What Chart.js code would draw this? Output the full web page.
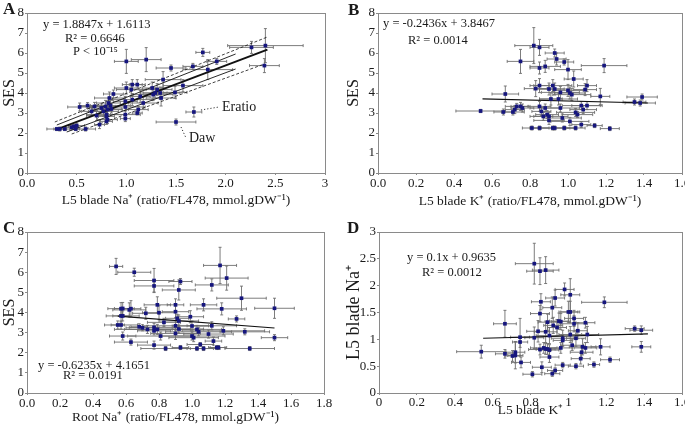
<!DOCTYPE html>
<html>
<head>
<meta charset="utf-8">
<title>SES vs ion content</title>
<script src="https://cdn.jsdelivr.net/npm/chart.js@4.4.0/dist/chart.umd.min.js"></script>
<style>
  html, body { margin: 0; padding: 0; background: #fff; overflow: hidden; }
  body { width: 685px; height: 426px; position: relative; }
  canvas { position: absolute; }
</style>
</head>
<body>
<canvas id="chartA" width="340" height="210" style="left:0;top:0"></canvas>
<canvas id="chartB" width="360" height="210" style="left:340px;top:0"></canvas>
<canvas id="chartC" width="340" height="216" style="left:0;top:210px"></canvas>
<canvas id="chartD" width="360" height="216" style="left:340px;top:210px"></canvas>
<script>
// Panel A: L5 blade Na+ vs SES
const aNa = [0.30, 0.33, 0.38, 0.45, 0.47, 0.50, 0.49, 0.59, 0.53, 0.61, 0.65, 0.68, 0.70, 0.73, 0.75, 0.77,
  0.79, 0.80, 0.80, 0.80, 0.81, 0.82, 0.83, 0.84, 0.85, 0.87, 0.81, 0.99, 0.99, 0.99, 0.99, 1.00, 1.00,
  1.05, 1.06, 1.06, 1.11, 1.11, 1.12, 1.14, 1.20, 1.17, 1.26, 1.27, 1.29, 1.31, 1.34, 1.35, 1.37, 1.45,
  1.49, 1.50, 1.57, 1.67, 1.68, 1.77, 1.82, 1.91, 2.26, 2.40, 2.39];
const aSES = [2.20, 2.20, 2.20, 2.28, 2.33, 2.37, 2.20, 2.20, 3.30, 3.37, 3.08, 3.33, 2.87, 2.42, 3.25, 3.08,
  3.33, 2.92, 2.83, 2.58, 2.67, 3.50, 3.75, 3.37, 3.20, 3.95, 3.17, 3.58, 3.30, 2.92, 2.72, 4.25, 5.58,
  4.17, 4.42, 3.67, 4.42, 3.00, 3.17, 3.83, 5.67, 3.50, 4.25, 3.92, 4.00, 4.17, 4.00, 3.75, 4.67, 5.25,
  4.03, 2.55, 4.37, 5.33, 3.05, 6.03, 5.17, 5.58, 6.28, 6.37, 5.37];
const aNaErr = [0.10, 0.06, 0.05, 0.06, 0.05, 0.08, 0.04, 0.10, 0.12, 0.08, 0.10, 0.15, 0.10, 0.05, 0.12, 0.15,
  0.10, 0.20, 0.08, 0.06, 0.10, 0.12, 0.15, 0.20, 0.10, 0.10, 0.15, 0.12, 0.20, 0.15, 0.05, 0.12, 0.12,
  0.15, 0.10, 0.20, 0.08, 0.05, 0.10, 0.10, 0.15, 0.15, 0.10, 0.20, 0.12, 0.15, 0.20, 0.15, 0.18, 0.15,
  0.12, 0.20, 0.20, 0.10, 0.08, 0.07, 0.25, 0.10, 0.22, 0.38, 0.15];
const aSESErr = [0.08, 0.10, 0.08, 0.10, 0.10, 0.12, 0.08, 0.10, 0.20, 0.15, 0.20, 0.20, 0.25, 0.20, 0.20, 0.25,
  0.30, 0.20, 0.20, 0.15, 0.20, 0.25, 0.30, 0.25, 0.20, 0.20, 0.20, 0.25, 0.20, 0.20, 0.15, 0.30, 0.60,
  0.30, 0.25, 0.30, 0.25, 0.10, 0.15, 0.30, 0.60, 0.30, 0.30, 0.30, 0.25, 0.30, 0.30, 0.40, 0.40, 0.15,
  0.30, 0.15, 0.30, 0.15, 0.25, 0.20, 0.50, 0.15, 0.30, 0.85, 0.35];
const aFitX = [0.30, 2.42], aFitY = [2.18, 6.17];
const aUpX = [0.30, 2.10], aUpY = [2.40, 5.95];
const aLowX = [0.40, 2.10], aLowY = [2.05, 5.20];
const aUpDashX = [0.28, 2.42], aUpDashY = [2.55, 6.80];
const aLowDashX = [0.45, 2.39], aLowDashY = [1.95, 5.45];
const aXTicks = ['0.0', '0.5', '1.0', '1.5', '2.0', '2.5', '3'];

// Panel B: L5 blade K+ vs SES
const bK = [0.54, 0.67, 0.66, 0.71, 0.72, 0.73, 0.75, 0.76, 0.75, 0.82, 0.85, 0.83, 0.85, 0.81, 0.85, 0.85,
  0.88, 0.85, 0.86, 0.87, 0.88, 0.89, 0.90, 0.90, 0.90, 0.91, 0.92, 0.93, 0.93, 0.94, 0.92, 0.93, 0.95,
  0.96, 0.96, 0.97, 0.98, 0.98, 1.00, 1.00, 1.01, 1.02, 1.03, 1.04, 1.01, 1.04, 1.05, 1.07, 1.07, 1.09,
  1.10, 1.10, 1.08, 1.14, 1.19, 1.17, 1.22, 1.35, 1.38, 1.39];
const bSES = [3.10, 3.95, 3.05, 3.05, 3.17, 3.33, 3.33, 3.25, 5.58, 6.37, 6.28, 4.22, 4.37, 2.25, 2.25, 5.25,
  5.33, 3.33, 3.08, 2.83, 3.25, 2.92, 2.83, 2.63, 4.20, 3.70, 4.37, 4.20, 6.00, 5.70, 2.25, 2.25, 3.70,
  4.03, 3.25, 2.75, 5.55, 2.25, 5.17, 4.13, 4.00, 3.92, 4.70, 2.25, 2.58, 3.03, 2.92, 3.37, 2.42, 4.17,
  4.37, 3.37, 3.17, 2.37, 5.37, 3.83, 2.22, 3.55, 3.50, 3.80];
const bKErr = [0.13, 0.07, 0.05, 0.06, 0.05, 0.06, 0.05, 0.06, 0.07, 0.10, 0.05, 0.06, 0.05, 0.05, 0.05, 0.05,
  0.08, 0.06, 0.05, 0.05, 0.08, 0.06, 0.10, 0.08, 0.08, 0.06, 0.10, 0.08, 0.05, 0.05, 0.12, 0.08, 0.10,
  0.10, 0.10, 0.10, 0.05, 0.06, 0.07, 0.08, 0.08, 0.10, 0.05, 0.05, 0.10, 0.10, 0.08, 0.10, 0.05, 0.06,
  0.05, 0.08, 0.07, 0.04, 0.12, 0.05, 0.05, 0.06, 0.08, 0.08];
const bSESErr = [0.08, 0.40, 0.15, 0.15, 0.20, 0.15, 0.20, 0.20, 0.60, 0.90, 0.40, 0.40, 0.35, 0.10, 0.10, 0.30,
  0.30, 0.25, 0.20, 0.20, 0.20, 0.20, 0.20, 0.20, 0.30, 0.30, 0.30, 0.30, 0.20, 0.30, 0.10, 0.10, 0.30,
  0.30, 0.20, 0.20, 0.15, 0.10, 0.50, 0.30, 0.30, 0.30, 0.40, 0.10, 0.20, 0.20, 0.15, 0.20, 0.15, 0.30,
  0.30, 0.20, 0.20, 0.10, 0.35, 0.40, 0.10, 0.15, 0.15, 0.15];
const bFitX = [0.55, 1.42], bFitY = [3.71, 3.50];
const bXTicks = ['0.0', '0.2', '0.4', '0.6', '0.8', '1.0', '1.2', '1.4', '1.6'];

// Panel C: root Na+ vs SES
const cNa = [0.54, 0.65, 0.77, 0.77, 0.93, 0.92, 1.17, 1.21, 1.12, 1.30, 1.50, 1.18, 1.07, 0.79, 0.90, 0.57,
  0.58, 0.62, 0.63, 0.57, 0.58, 0.72, 0.80, 0.90, 0.99, 1.27, 0.91, 0.92, 0.83, 0.55, 0.57, 0.68, 0.70,
  0.73, 0.77, 0.77, 0.79, 0.90, 0.92, 1.00, 1.03, 1.04, 1.12, 1.19, 1.32, 0.58, 0.81, 0.90, 1.01, 1.00,
  1.10, 1.13, 0.63, 0.77, 0.84, 0.93, 1.03, 1.05, 1.07, 1.15, 1.16, 1.35, 1.50];
const cSES = [6.29, 6.00, 5.59, 5.32, 5.54, 5.12, 6.34, 5.71, 5.37, 4.71, 4.21, 4.18, 4.38, 4.38, 4.38, 4.19,
  4.20, 4.13, 4.19, 3.83, 3.83, 3.96, 3.99, 4.04, 3.79, 3.68, 3.71, 3.58, 3.51, 3.38, 3.38, 3.29, 3.24,
  3.16, 3.26, 3.09, 3.16, 3.34, 3.18, 3.33, 3.16, 3.04, 3.34, 3.09, 3.04, 2.83, 2.83, 2.96, 2.75, 2.83,
  2.93, 2.58, 2.53, 2.38, 2.21, 2.26, 2.21, 2.41, 2.21, 2.26, 2.26, 2.21, 2.75];
const cNaErr = [0.04, 0.10, 0.12, 0.12, 0.07, 0.10, 0.10, 0.13, 0.10, 0.15, 0.12, 0.15, 0.08, 0.08, 0.05, 0.08,
  0.05, 0.10, 0.06, 0.05, 0.10, 0.08, 0.10, 0.08, 0.08, 0.05, 0.07, 0.12, 0.10, 0.04, 0.10, 0.05, 0.10,
  0.20, 0.15, 0.10, 0.20, 0.20, 0.15, 0.12, 0.15, 0.20, 0.15, 0.25, 0.15, 0.08, 0.20, 0.15, 0.15, 0.20,
  0.15, 0.05, 0.10, 0.10, 0.15, 0.05, 0.10, 0.08, 0.10, 0.05, 0.05, 0.15, 0.08];
const cSESErr = [0.40, 0.20, 0.60, 0.30, 0.15, 0.50, 0.90, 0.60, 0.30, 0.60, 0.50, 0.30, 0.30, 0.40, 0.30, 0.30,
  0.30, 0.35, 0.40, 0.30, 0.25, 0.30, 0.35, 0.30, 0.30, 0.15, 0.20, 0.30, 0.20, 0.20, 0.20, 0.15, 0.15,
  0.20, 0.20, 0.20, 0.25, 0.25, 0.20, 0.25, 0.20, 0.20, 0.20, 0.20, 0.15, 0.20, 0.20, 0.30, 0.20, 0.20,
  0.20, 0.20, 0.15, 0.20, 0.10, 0.10, 0.10, 0.10, 0.10, 0.10, 0.10, 0.10, 0.15];
const cFitX = [0.55, 1.50], cFitY = [3.82, 3.23];
const cXTicks = ['0.0', '0.2', '0.4', '0.6', '0.8', '1.0', '1.2', '1.4', '1.6', '1.8'];
const sesTicks = ['0', '1', '2', '3', '4', '5', '6', '7', '8'];

// Panel D: L5 blade K+ vs L5 blade Na+
const dK = [0.54, 0.665, 0.665, 0.705, 0.72, 0.72, 0.745, 0.745, 0.75, 0.81, 0.82, 0.85, 0.88, 0.82, 0.84, 0.855,
  0.85, 0.85, 0.86, 0.87, 0.88, 0.88, 0.89, 0.90, 0.90, 0.90, 0.89, 0.915, 0.92, 0.93, 0.94, 0.915, 0.93,
  0.95, 0.96, 0.96, 0.97, 0.97, 0.97, 0.98, 1.00, 1.01, 1.01, 1.01, 1.02, 1.03, 1.03, 1.04, 1.04, 1.05,
  1.065, 1.07, 1.075, 1.09, 1.10, 1.09, 1.135, 1.17, 1.19, 1.22, 1.35, 1.385, 1.385];
const dNa = [0.77, 1.29, 0.73, 0.69, 0.76, 0.70, 1.04, 0.95, 0.57, 0.35, 2.41, 2.27, 2.29, 1.03, 1.15, 1.70,
  1.48, 0.81, 0.48, 0.84, 1.14, 0.82, 0.82, 0.80, 0.67, 1.07, 1.32, 1.59, 1.26, 1.77, 1.22, 0.36, 0.42,
  1.34, 1.33, 0.84, 1.02, 0.52, 0.98, 1.93, 1.51, 1.51, 1.83, 1.09, 0.89, 1.29, 1.39, 1.02, 0.50, 1.16,
  0.64, 0.76, 0.86, 1.31, 1.09, 0.84, 0.53, 0.86, 1.69, 0.62, 1.20, 1.17, 0.86];
const dKErr = [0.13, 0.06, 0.05, 0.04, 0.05, 0.04, 0.05, 0.04, 0.05, 0.05, 0.10, 0.07, 0.07, 0.05, 0.06, 0.05,
  0.05, 0.06, 0.05, 0.07, 0.06, 0.05, 0.06, 0.05, 0.05, 0.07, 0.05, 0.05, 0.05, 0.05, 0.05, 0.04, 0.04,
  0.05, 0.05, 0.06, 0.06, 0.04, 0.05, 0.05, 0.05, 0.05, 0.05, 0.06, 0.06, 0.07, 0.05, 0.05, 0.04, 0.05,
  0.05, 0.06, 0.07, 0.05, 0.06, 0.06, 0.03, 0.05, 0.12, 0.05, 0.05, 0.06, 0.05];
const dNaErr = [0.12, 0.25, 0.08, 0.10, 0.20, 0.25, 0.35, 0.10, 0.10, 0.05, 0.38, 0.25, 0.25, 0.20, 0.20, 0.15,
  0.15, 0.10, 0.10, 0.10, 0.20, 0.10, 0.10, 0.10, 0.10, 0.15, 0.15, 0.20, 0.15, 0.15, 0.15, 0.05, 0.05,
  0.15, 0.15, 0.10, 0.15, 0.05, 0.10, 0.12, 0.20, 0.20, 0.30, 0.15, 0.10, 0.15, 0.15, 0.15, 0.05, 0.15,
  0.10, 0.10, 0.15, 0.10, 0.15, 0.10, 0.05, 0.15, 0.10, 0.05, 0.05, 0.08, 0.10];
const dFitX = [0.55, 1.42], dFitY = [1.02, 1.10];
const dXTicks = ['0', '0.2', '0.4', '0.6', '0.8', '1', '1.2', '1.4', '1.6'];
const dYTicks = ['0', '0.5', '1', '1.5', '2', '2.5', '3'];

const FONT = '"Liberation Serif", "Times New Roman", serif';
const TXT = '#1a1a1a';
const AXIS = '#8a8a8a';
const NAVY = '#16167e';

function pts(xs, ys) {
  return xs.map((x, i) => ({ x: x, y: ys[i] }));
}

// error bars drawn under the markers
const errorBars = {
  id: 'errorBars',
  beforeDatasetsDraw(chart) {
    const ctx = chart.ctx, sx = chart.scales.x, sy = chart.scales.y;
    ctx.save();
    ctx.strokeStyle = '#6e6e6e';
    ctx.lineWidth = 0.9;
    chart.data.datasets.forEach(ds => {
      if (!ds.xErr) return;
      ds.data.forEach((p, i) => {
        const px = sx.getPixelForValue(p.x), py = sy.getPixelForValue(p.y);
        const x1 = sx.getPixelForValue(p.x - ds.xErr[i]), x2 = sx.getPixelForValue(p.x + ds.xErr[i]);
        const y1 = sy.getPixelForValue(p.y - ds.yErr[i]), y2 = sy.getPixelForValue(p.y + ds.yErr[i]);
        ctx.beginPath();
        ctx.moveTo(x1, py); ctx.lineTo(x2, py);
        ctx.moveTo(x1, py - 1.5); ctx.lineTo(x1, py + 1.5);
        ctx.moveTo(x2, py - 1.5); ctx.lineTo(x2, py + 1.5);
        ctx.moveTo(px, y1); ctx.lineTo(px, y2);
        ctx.moveTo(px - 1.5, y1); ctx.lineTo(px + 1.5, y1);
        ctx.moveTo(px - 1.5, y2); ctx.lineTo(px + 1.5, y2);
        ctx.stroke();
      });
    });
    ctx.restore();
  }
};

// frame around the plot area
const frame = {
  id: 'frame',
  beforeDatasetsDraw(chart) {
    const a = chart.chartArea, ctx = chart.ctx;
    ctx.save();
    ctx.strokeStyle = AXIS;
    ctx.lineWidth = 1;
    ctx.strokeRect(Math.round(a.left) + 0.5, Math.round(a.top) + 0.5,
      Math.round(a.right - a.left), Math.round(a.bottom - a.top));
    ctx.restore();
  }
};

function makePanel(id, p) {
  const datasets = [{
    type: 'scatter',
    data: pts(p.x, p.y),
    xErr: p.xErr,
    yErr: p.yErr,
    backgroundColor: NAVY,
    borderColor: NAVY,
    pointStyle: 'rect',
    pointRadius: 2.6,
    borderWidth: 0,
    order: 0
  }];
  p.lines.forEach(l => {
    datasets.push({
      type: 'line',
      data: pts(l.x, l.y),
      borderColor: '#111',
      borderWidth: l.w,
      borderDash: l.dash || [],
      pointRadius: 0,
      fill: false,
      order: 1
    });
  });

  // equations, panel letter and callouts
  const notes = {
    id: 'notes',
    afterDraw(chart) {
      const ctx = chart.ctx;
      ctx.save();
      ctx.fillStyle = TXT;
      ctx.textBaseline = 'middle';
      ctx.textAlign = 'left';
      ctx.font = 'bold 17px ' + FONT;
      ctx.fillText(p.letter[0], p.letter[1], p.letter[2]);
      ctx.font = '12.5px ' + FONT;
      p.notes.forEach(n => ctx.fillText(n[0], n[1], n[2]));
      (p.callouts || []).forEach(c => {
        const px = chart.scales.x.getPixelForValue(c.x);
        const py = chart.scales.y.getPixelForValue(c.y);
        ctx.strokeStyle = '#333';
        ctx.lineWidth = 1;
        ctx.setLineDash([1.2, 2]);
        ctx.beginPath();
        ctx.moveTo(px + c.dx, py + c.dy);
        ctx.lineTo(c.tx - 3, c.ty);
        ctx.stroke();
        ctx.setLineDash([]);
        ctx.font = '14px ' + FONT;
        ctx.fillText(c.label, c.tx, c.ty);
      });
      ctx.restore();
    }
  };

  const tickFont = { family: FONT, size: 13 };
  return new Chart(document.getElementById(id), {
    type: 'scatter',
    data: { datasets: datasets },
    options: {
      responsive: false,
      animation: false,
      layout: { padding: { top: p.top, right: p.right, left: 0, bottom: 0 } },
      plugins: { legend: { display: false }, tooltip: { enabled: false } },
      scales: {
        x: {
          type: 'linear',
          min: p.xMin, max: p.xMax,
          grid: { drawOnChartArea: false, drawTicks: true, tickLength: 2, color: AXIS },
          border: { display: false },
          ticks: {
            stepSize: p.xStep, autoSkip: false, maxRotation: 0, padding: p.xTickPad,
            color: TXT, font: tickFont,
            callback: (v, i) => p.xTicks[i]
          },
          title: {
            display: true, text: p.xTitle, color: TXT,
            font: { family: FONT, size: 13.5 },
            padding: { top: 0, bottom: p.xTitlePad }
          },
          afterFit: s => { s.height = p.xH; }
        },
        y: {
          type: 'linear',
          min: p.yMin, max: p.yMax,
          grid: { drawOnChartArea: false, drawTicks: true, tickLength: 2, color: AXIS },
          border: { display: false },
          ticks: {
            stepSize: p.yStep, autoSkip: false, padding: 1,
            color: TXT, font: tickFont,
            callback: (v, i) => p.yTicks[i]
          },
          title: {
            display: true, text: p.yTitle, color: TXT,
            font: { family: FONT, size: p.yTitleSize },
            padding: { top: p.yTitlePad, bottom: 0 }
          },
          afterFit: s => { s.width = p.yW; }
        }
      }
    },
    plugins: [frame, errorBars, notes]
  });
}

makePanel('chartA', {
  x: aNa, y: aSES, xErr: aNaErr, yErr: aSESErr,
  lines: [
    { x: aUpDashX, y: aUpDashY, w: 0.8, dash: [3, 2] },
    { x: aLowDashX, y: aLowDashY, w: 0.8, dash: [3, 2] },
    { x: aUpX, y: aUpY, w: 0.9 },
    { x: aLowX, y: aLowY, w: 0.9 },
    { x: aFitX, y: aFitY, w: 2 }
  ],
  xMin: 0, xMax: 3, xStep: 0.5, xTicks: aXTicks,
  yMin: 0, yMax: 8, yStep: 1, yTicks: sesTicks,
  xTitle: 'L5 blade Na\u207A (ratio/FL478, mmol.gDW\u207B\u00B9)', yTitle: 'SES',
  top: 13, right: 15, yW: 27, xH: 37, xTickPad: 1, xTitlePad: 1, yTitlePad: 0, yTitleSize: 16,
  letter: ['A', 3, 10],
  notes: [['y = 1.8847x + 1.6113', 43, 25], ['R\u00B2 = 0.6646', 65, 39], ['P < 10\u207B\u00B9\u2075', 73, 52]],
  callouts: [
    { x: 1.68, y: 3.05, dx: 7, dy: -2, label: 'Eratio', tx: 222, ty: 107 },
    { x: 1.50, y: 2.55, dx: 5, dy: 5, label: 'Daw', tx: 189, ty: 138 }
  ]
});

makePanel('chartB', {
  x: bK, y: bSES, xErr: bKErr, yErr: bSESErr,
  lines: [{ x: bFitX, y: bFitY, w: 1.2 }],
  xMin: 0, xMax: 1.6, xStep: 0.2, xTicks: bXTicks,
  yMin: 0, yMax: 8, yStep: 1, yTicks: sesTicks,
  xTitle: 'L5 blade K\u207A (ratio/FL478, mmol.gDW\u207B\u00B9)', yTitle: 'SES',
  top: 13, right: 18, yW: 38, xH: 37, xTickPad: 1, xTitlePad: 0, yTitlePad: 4, yTitleSize: 16,
  letter: ['B', 8, 11],
  notes: [['y = -0.2436x + 3.8467', 43, 24], ['R\u00B2 = 0.0014', 68, 41]]
});

makePanel('chartC', {
  x: cNa, y: cSES, xErr: cNaErr, yErr: cSESErr,
  lines: [{ x: cFitX, y: cFitY, w: 1.2 }],
  xMin: 0, xMax: 1.8, xStep: 0.2, xTicks: cXTicks,
  yMin: 0, yMax: 8, yStep: 1, yTicks: sesTicks,
  xTitle: 'Root Na\u207A (ratio/FL478, mmol.gDW\u207B\u00B9)', yTitle: 'SES',
  top: 22, right: 16, yW: 27, xH: 33, xTickPad: 1, xTitlePad: 0, yTitlePad: 0, yTitleSize: 16,
  letter: ['C', 3, 19],
  notes: [['y = -0.6235x + 4.1651', 38, 156], ['R\u00B2 = 0.0191', 63, 166]]
});

makePanel('chartD', {
  x: dK, y: dNa, xErr: dKErr, yErr: dNaErr,
  lines: [{ x: dFitX, y: dFitY, w: 1.2 }],
  xMin: 0, xMax: 1.6, xStep: 0.2, xTicks: dXTicks,
  yMin: 0, yMax: 3, yStep: 0.5, yTicks: dYTicks,
  xTitle: 'L5 blade K\u207A', yTitle: 'L5 blade Na\u207A',
  top: 22, right: 18, yW: 39, xH: 33, xTickPad: 0, xTitlePad: 7, yTitlePad: 3, yTitleSize: 18,
  letter: ['D', 7, 19],
  notes: [['y = 0.1x + 0.9635', 67, 48], ['R\u00B2 = 0.0012', 82, 63]]
});
</script>
</body>
</html>
